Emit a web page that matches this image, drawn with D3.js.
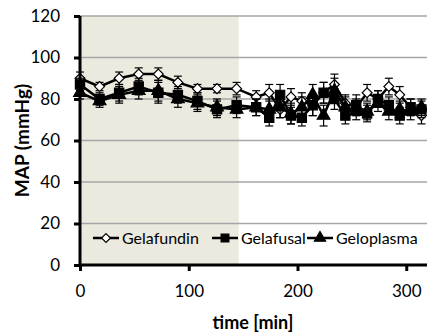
<!DOCTYPE html>
<html><head><meta charset="utf-8">
<script src="https://cdn.jsdelivr.net/npm/d3@7"></script>
<style>body{margin:0;background:#fff}svg{display:block}text{font-family:Lato,"Open Sans",sans-serif}</style>
</head><body><div id="c"></div>
<script>
const times = [0,18,36,54,72,90,108,126,144,162,174,184,194,204,214,224,234,244,254,264,274,284,294,304,314];
const gelafundin = [90,86,90,92,92,88,85,85,85,81,83,75,81,79,77,83,87,78,76,83,80,86,82,76,72];
const gelafusal  = [87,80,83,86,83,82,79,75,77,76,71,82,72,71,77,83,80,72,77,73,80,77,72,76,75];
const geloplasma = [83,79,82,84,84,80,78,76,75,76,75,76,73,76,82,72,84,76,74,74,78,74,75,74,76];
const errFundin  = [3,2,3,3,3,3,2,2,3,3,4,4,4,4,5,5,5,4,4,4,4,4,4,4,4];
const errFusal   = [3,3,4,4,5,4,4,4,4,4,4,5,4,4,5,5,5,4,5,4,4,4,4,4,4];
const errPlasma  = [3,3,4,4,5,4,4,4,4,4,5,5,5,5,5,5,6,5,4,4,4,4,4,4,4];
const seriesNames = ["Gelafundin","Gelafusal","Geloplasma"];
const xTicks = [0,100,200,300];
const yTicks = [0,20,40,60,80,100,120];
const shadeEnd = 146;

const W=427,H=335;
const svg=d3.select("#c").append("svg").attr("width",W).attr("height",H);
const x=d3.scaleLinear().domain([0,320]).range([80,428]);
const y=d3.scaleLinear().domain([0,120]).range([265,16]);

svg.append("rect").attr("x",x(0)).attr("y",y(120)).attr("width",x(shadeEnd)-x(0)).attr("height",y(0)-y(120)).attr("fill","#ece9df");

svg.append("g").selectAll("line").data(yTicks.filter(d=>d>0)).join("line")
  .attr("x1",x(0)).attr("x2",W).attr("y1",d=>y(d)).attr("y2",d=>y(d))
  .attr("stroke","#a6a6a6").attr("stroke-width",1.3);

const series=[
  {name:seriesNames[0],v:gelafundin,e:errFundin,shape:d3.symbolDiamond2,fill:"#fff",size:62},
  {name:seriesNames[2],v:geloplasma,e:errPlasma,shape:d3.symbolTriangle,fill:"#000",size:70},
  {name:seriesNames[1],v:gelafusal,e:errFusal,shape:d3.symbolSquare,fill:"#000",size:85}
];
const line=d3.line().x((d,i)=>x(times[i])).y(d=>y(d));
series.forEach(s=>{
  const g=svg.append("g");
  g.selectAll("line.eb").data(s.v).join("line")
    .attr("x1",(d,i)=>x(times[i])).attr("x2",(d,i)=>x(times[i]))
    .attr("y1",(d,i)=>y(d+s.e[i])).attr("y2",(d,i)=>y(d-s.e[i]))
    .attr("stroke","#000").attr("stroke-width",1.2);
  [1,-1].forEach(sg=>{
    g.selectAll("line.cap"+sg).data(s.v).join("line")
      .attr("x1",(d,i)=>x(times[i])-4).attr("x2",(d,i)=>x(times[i])+4)
      .attr("y1",(d,i)=>y(d+sg*s.e[i])).attr("y2",(d,i)=>y(d+sg*s.e[i]))
      .attr("stroke","#000").attr("stroke-width",1.2);
  });
  g.append("path").attr("d",line(s.v)).attr("fill","none").attr("stroke","#000").attr("stroke-width",2.5);
  g.selectAll("path.m").data(s.v).join("path")
    .attr("d",d3.symbol(s.shape,s.size))
    .attr("transform",(d,i)=>`translate(${x(times[i])},${y(d)})`)
    .attr("fill",s.fill).attr("stroke","#000").attr("stroke-width",1.2);
});

// axes
const ya=svg.append("g").attr("transform",`translate(${x(0)},0)`)
  .call(d3.axisLeft(y).tickValues(yTicks).tickSize(6).tickPadding(14));
const xa=svg.append("g").attr("transform",`translate(0,${y(0)})`)
  .call(d3.axisBottom(x).tickValues(xTicks).tickSize(6).tickPadding(14));
[ya,xa].forEach(a=>{
  a.select(".domain").attr("stroke","#000").attr("stroke-width",3);
  a.selectAll(".tick line").attr("stroke","#000").attr("stroke-width",3);
  a.selectAll("text").attr("font-size",17).attr("fill","#000").style("font-family","Lato,'Open Sans',sans-serif");
});
ya.select(".domain").attr("d",`M0,${y(120)}V${y(0)}`);
xa.select(".domain").attr("d",`M${x(0)},0H${W}`);

svg.append("text").attr("transform",`translate(29,${(y(0)+y(120))/2}) rotate(-90)`)
  .attr("text-anchor","middle").attr("font-size",19).attr("font-weight","bold").text("MAP (mmHg)");
svg.append("text").attr("x",253).attr("y",329).attr("text-anchor","middle")
  .attr("font-size",18).attr("font-weight","bold").text("time [min]");

// legend
const leg=[
  {name:seriesNames[0],shape:d3.symbolDiamond2,fill:"#fff",x0:93,size:50},
  {name:seriesNames[1],shape:d3.symbolSquare,fill:"#000",x0:212,size:60},
  {name:seriesNames[2],shape:d3.symbolTriangle,fill:"#000",x0:307,size:55}
];
const ly=238;
leg.forEach(l=>{
  const g=svg.append("g");
  g.append("line").attr("x1",l.x0).attr("x2",l.x0+26).attr("y1",ly).attr("y2",ly).attr("stroke","#000").attr("stroke-width",2.5);
  g.append("path").attr("d",d3.symbol(l.shape,l.size)).attr("transform",`translate(${l.x0+13},${ly})`)
    .attr("fill",l.fill).attr("stroke","#000").attr("stroke-width",1.2);
  g.append("text").attr("x",l.x0+29).attr("y",ly+6).attr("font-size",16).text(l.name);
});
</script></body></html>
